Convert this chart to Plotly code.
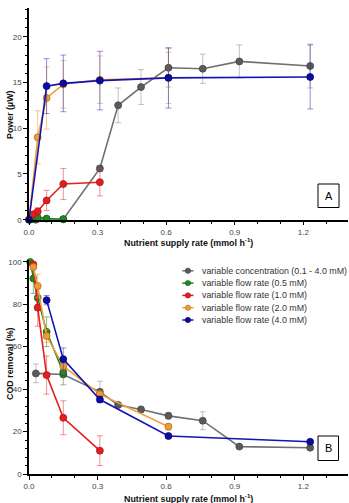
import plotly.graph_objects as go

# ---------------- data ----------------
series_names = [
    "variable concentration (0.1 - 4.0 mM)",
    "variable flow rate (0.5 mM)",
    "variable flow rate (1.0 mM)",
    "variable flow rate (2.0 mM)",
    "variable flow rate (4.0 mM)",
]

# variable concentration (gray)
gray_x = [0.03, 0.15, 0.31, 0.39, 0.49, 0.61, 0.76, 0.92, 1.23]
gray_power = [0.0, 0.05, 5.6, 12.5, 14.5, 16.6, 16.5, 17.3, 16.8]
gray_power_err = [0.1, 0.1, 0.3, 1.9, 1.9, 2.1, 1.6, 1.8, 2.4]
gray_cod = [47.4, 46.9, 38.7, 32.5, 30.4, 27.4, 25.1, 12.9, 12.4]
gray_cod_err = [4.4, 1.0, 5.0, 1.0, 1.5, 1.5, 4.2, 0.5, 0.5]

# variable flow rate 0.5 mM (green)
green_x = [0.005, 0.019, 0.038, 0.077, 0.15]
green_power = [0.0, 0.1, 0.25, 0.12, 0.05]
green_power_err = [0.05, 0.1, 0.1, 0.1, 0.1]
green_cod = [99.9, 92.1, 83.0, 67.0, 48.0]
green_cod_err = [0.5, 7.0, 6.0, 7.0, 6.0]

# variable flow rate 1.0 mM (red)
red_x = [0.019, 0.038, 0.077, 0.15, 0.31]
red_power = [0.6, 0.9, 2.1, 3.9, 4.1]
red_power_err = [0.3, 0.4, 1.1, 1.7, 1.5]
red_cod = [98.7, 78.4, 46.6, 26.5, 11.0]
red_cod_err = [1.0, 8.8, 9.0, 8.0, 7.0]

# variable flow rate 2.0 mM (orange)
orange_power_x = [0.0, 0.038, 0.077, 0.15, 0.31, 0.61]
orange_power = [0.0, 9.0, 13.3, 14.8, 15.3, 15.5]
orange_power_err = [0.0, 2.9, 3.4, 2.6, 2.6, 2.8]
orange_cod_x = [0.019, 0.038, 0.077, 0.15, 0.31, 0.61]
orange_cod = [97.5, 88.6, 65.0, 50.8, 37.6, 22.3]
orange_cod_err = [1.0, 5.5, 3.0, 2.0, 1.5, 1.5]

# variable flow rate 4.0 mM (blue)
blue_power_x = [0.0, 0.077, 0.15, 0.31, 0.61, 1.23]
blue_power = [0.0, 14.6, 14.9, 15.2, 15.5, 15.6]
blue_power_err = [0.0, 3.0, 3.1, 3.2, 3.3, 3.5]
blue_cod_x = [0.077, 0.15, 0.31, 0.61, 1.23]
blue_cod = [81.9, 54.1, 35.1, 17.9, 15.2]
blue_cod_err = [2.2, 5.3, 1.5, 0.8, 0.5]

x_ticks = [0.0, 0.3, 0.6, 0.9, 1.2]
x_tick_labels = ["0.0", "0.3", "0.6", "0.9", "1.2"]
power_ticks = [0, 5, 10, 15, 20]
cod_ticks = [0, 20, 40, 60, 80, 100]

# ---------------- styles ----------------
W, H = 349, 503
ML, MR, MT, MB = 29, 1, 8, 29
PW, PH = W - ML - MR, H - MT - MB
FONT = "Liberation Sans, Arial, sans-serif"

styles = [
    dict(line="#707070", marker="#5a5a5a", edge="#404040", err="rgba(120,120,120,0.45)"),
    dict(line="#1f7f1f", marker="#1e8a1e", edge="#145814", err="rgba(40,140,40,0.55)"),
    dict(line="#e02020", marker="#e21f1f", edge="#a81010", err="rgba(225,40,40,0.5)"),
    dict(line="#f0a040", marker="#ee9a35", edge="#a86a20", err="rgba(240,150,60,0.55)"),
    dict(line="#1414b0", marker="#0c0ca0", edge="#060670", err="rgba(40,40,170,0.5)"),
]


def py(p):
    return (H - MB - p) / PH


def px(p):
    return (p - ML) / PW


fig = go.Figure()

power_sets = [
    (gray_x, gray_power, gray_power_err),
    (green_x, green_power, green_power_err),
    (red_x, red_power, red_power_err),
    (orange_power_x, orange_power, orange_power_err),
    (blue_power_x, blue_power, blue_power_err),
]
cod_sets = [
    (gray_x, gray_cod, gray_cod_err),
    (green_x, green_cod, green_cod_err),
    (red_x, red_cod, red_cod_err),
    (orange_cod_x, orange_cod, orange_cod_err),
    (blue_cod_x, blue_cod, blue_cod_err),
]


def add_series(xs, ys, es, st, name, xa, ya):
    fig.add_trace(go.Scatter(
        x=xs, y=ys, mode="lines+markers", name=name, showlegend=False,
        xaxis=xa, yaxis=ya, cliponaxis=False,
        line=dict(color=st["line"], width=1.6),
        marker=dict(color=st["marker"], size=7, line=dict(color=st["edge"], width=0.7)),
        error_y=dict(type="data", array=es, visible=True, color=st["err"], thickness=1, width=3),
    ))


for (xs, ys, es), st, nm in zip(power_sets, styles, series_names):
    add_series(xs, ys, es, st, nm, "x", "y")
for (xs, ys, es), st, nm in zip(cod_sets, styles, series_names):
    add_series(xs, ys, es, st, nm, "x2", "y2")

# ---------------- custom legend (shapes + text, pixel placed) ----------------
leg_y0, leg_dy = 270.8, 12.3
leg_x_line0, leg_x_line1, leg_x_text = 182.3, 193.5, 200
for i, (nm, st) in enumerate(zip(series_names, styles)):
    yy = leg_y0 + i * leg_dy
    fig.add_shape(type="line", xref="paper", yref="paper",
                  x0=px(leg_x_line0), x1=px(leg_x_line1), y0=py(yy), y1=py(yy),
                  line=dict(color=st["line"], width=1.5))
    xc = px((leg_x_line0 + leg_x_line1) / 2)
    fig.add_shape(type="circle", xref="paper", yref="paper",
                  xsizemode="pixel", ysizemode="pixel", xanchor=xc, yanchor=py(yy),
                  x0=-2.7, x1=2.7, y0=-2.7, y1=2.7,
                  fillcolor=st["marker"], line=dict(color=st["edge"], width=0.5))
    fig.add_annotation(x=px(leg_x_text), y=py(yy), xref="paper", yref="paper", text=nm, showarrow=False,
                       xanchor="left", yanchor="middle",
                       font=dict(family=FONT, size=8.9, color="#333333"))

# ---------------- axes ----------------
top_dom = [py(219.7), 1.0]
bot_dom = [0.0, py(259.6)]
x_range = [0, PW / 228.6]


def x_axis(anchor):
    return dict(
        domain=[0, 1], anchor=anchor,
        range=x_range, tickmode="array", tickvals=x_ticks, ticktext=x_tick_labels,
        showticklabels=True, ticklabeloverflow="allow",
        showgrid=False, zeroline=False,
        showline=True, linecolor="black", linewidth=1.5, ticks="outside", ticklen=4, tickwidth=1.2,
        tickcolor="black", tickfont=dict(family=FONT, size=8, color="#444444"),
        minor=dict(tickmode="linear", dtick=0.1, tick0=0, ticks="outside", ticklen=2.5, tickwidth=1,
                   tickcolor="black"),
    )


def y_axis(anchor, dom, rng, tv, mdt):
    return dict(
        domain=dom, anchor=anchor, range=rng, tickmode="array", tickvals=tv,
        showgrid=False, zeroline=False, showline=True, linecolor="black", linewidth=1.5,
        ticks="outside", ticklen=4, tickwidth=1.2, tickcolor="black",
        tickfont=dict(family=FONT, size=8, color="#444444"),
        minor=dict(tickmode="linear", dtick=mdt, tick0=0, ticks="outside", ticklen=2.5, tickwidth=1,
                   tickcolor="black"),
    )


fig.update_layout(
    width=W, height=H, margin=dict(l=ML, r=MR, t=MT, b=MB),
    paper_bgcolor="white", plot_bgcolor="white", showlegend=False,
    xaxis=x_axis("y"),
    yaxis=y_axis("x", top_dom, [0, (219.7 - MT) / 9.15], power_ticks, 1),
    xaxis2=x_axis("y2"),
    yaxis2=y_axis("x2", bot_dom, [0, 101], cod_ticks, 4),
)

# axis titles
title_font = dict(family=FONT, size=8.9, color="#111111")
fig.add_annotation(text="<b>Power (µW)</b>", xref="paper", yref="paper", x=px(10), y=py(115),
                   xanchor="center", yanchor="middle",
                   textangle=-90, showarrow=False, font=title_font)
fig.add_annotation(text="<b>COD removal (%)</b>", xref="paper", yref="paper", x=px(10), y=py(364),
                   xanchor="center", yanchor="middle",
                   textangle=-90, showarrow=False, font=title_font)
for yy in (242, 497.5):
    fig.add_annotation(text="<b>Nutrient supply rate (mmol h<sup>-1</sup>)</b>", xref="paper", yref="paper",
                       x=px(188), y=py(yy), xanchor="center", yanchor="middle",
                       showarrow=False, font=title_font)

# panel boxes
for lab, (x0, x1, y0, y1) in (("A", (318, 339, 184, 207.5)), ("B", (318, 338.5, 436, 460.5))):
    fig.add_shape(type="rect", xref="paper", yref="paper", x0=px(x0), x1=px(x1), y0=py(y1), y1=py(y0),
                  line=dict(color="black", width=1), fillcolor="white")
    fig.add_annotation(text=lab, xref="paper", yref="paper", x=px((x0 + x1) / 2), y=py((y0 + y1) / 2),
                       xanchor="center", yanchor="middle",
                       showarrow=False, font=dict(family=FONT, size=11, color="black"))

fig.write_html("out.html")
